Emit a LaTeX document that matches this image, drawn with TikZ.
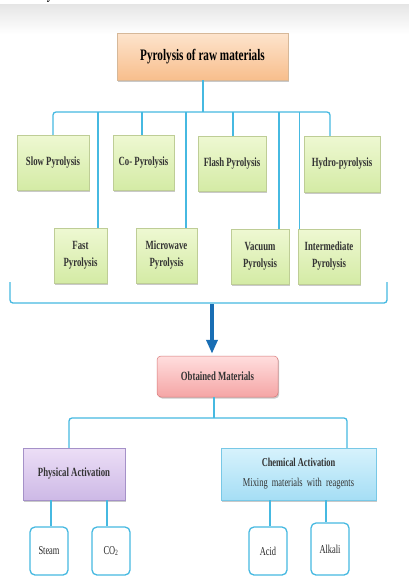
\documentclass[tikz,border=0pt]{standalone}
\usepackage{fontspec}
\setmainfont{Liberation Serif}[FakeStretch=0.7]
\usetikzlibrary{shadows,arrows.meta,calc}
\definecolor{conn}{RGB}{70,185,225}
\definecolor{arr}{RGB}{25,110,180}
\tikzset{
  conn/.style={draw=conn,line width=1.3pt},
  bus/.style={conn,rounded corners=3pt},
  box/.style={rectangle,align=center,inner sep=1pt,font=\bfseries,text=black!80,
    drop shadow={shadow xshift=1.2pt,shadow yshift=-1.5pt,opacity=0.35,fill=black!60}},
  titlebox/.style={box,draw=orange!60!black!40,line width=0.5pt,top color={rgb,255:red,253;green,228;blue,205},bottom color={rgb,255:red,248;green,190;blue,140},font=\bfseries\fontsize{16}{18}\selectfont,text=black},
  greenbox/.style={box,draw={rgb,255:red,190;green,205;blue,150},line width=0.5pt,top color={rgb,255:red,238;green,248;blue,210},bottom color={rgb,255:red,212;green,235;blue,165},font=\bfseries\fontsize{12.5}{17}\selectfont},
  redbox/.style={box,rounded corners=4pt,draw={rgb,255:red,215;green,120;blue,120},line width=0.5pt,top color={rgb,255:red,255;green,222;blue,222},bottom color={rgb,255:red,245;green,165;blue,165},font=\bfseries\fontsize{12.5}{15}\selectfont},
  purplebox/.style={box,draw={rgb,255:red,165;green,145;blue,200},line width=0.5pt,top color={rgb,255:red,236;green,222;blue,246},bottom color={rgb,255:red,205;green,185;blue,230},font=\bfseries\fontsize{12.5}{15}\selectfont},
  cyanbox/.style={box,draw={rgb,255:red,120;green,200;blue,230},line width=0.5pt,top color={rgb,255:red,215;green,242;blue,252},bottom color={rgb,255:red,165;green,222;blue,245},font=\fontsize{12}{20}\selectfont},
  smallbox/.style={rectangle,rounded corners=5pt,draw=conn,line width=1.3pt,fill=white,minimum width=38pt,minimum height=48pt,font=\fontsize{12}{14}\selectfont,text=black!85},
}
\begin{document}
\begin{tikzpicture}[x=1pt,y=-1pt]
\useasboundingbox (0,0) rectangle (409,576);
\fill[white] (0,0) rectangle (409,576);
\shade[top color=black!10,bottom color=white] (0,4) rectangle (409,34);
\begin{scope}
\clip (0,0) rectangle (409,4);
\node[font=\fontsize{18}{20}\selectfont,inner sep=0pt,anchor=base] (ytail) at (50,-1.5) {y};
\end{scope}

% title
\node[titlebox,minimum width=171pt,minimum height=47pt] (title) at (202.5,56.5) {Pyrolysis of raw materials};

% pyrolysis types
\node[greenbox,minimum width=72pt,minimum height=55pt] (slow) at (53,162.5) {Slow Pyrolysis};
\node[greenbox,minimum width=61pt,minimum height=55pt] (co) at (143.5,162.5) {Co- Pyrolysis};
\node[greenbox,minimum width=68pt,minimum height=55pt] (flash) at (232,163.5) {Flash Pyrolysis};
\node[greenbox,minimum width=76pt,minimum height=56pt] (hydro) at (342,164) {Hydro-pyrolysis};
\node[greenbox,minimum width=53pt,minimum height=55pt] (fast) at (80.5,255.5) {Fast\\Pyrolysis};
\node[greenbox,minimum width=61pt,minimum height=55pt] (micro) at (166.5,255.5) {Microwave\\Pyrolysis};
\node[greenbox,minimum width=58pt,minimum height=55pt] (vac) at (260,256.5) {Vacuum\\Pyrolysis};
\node[greenbox,minimum width=62pt,minimum height=55pt] (inter) at (329,256.5) {Intermediate\\Pyrolysis};

% bus
\coordinate (bus) at (203,112);
\coordinate (bL) at (53,112);
\coordinate (bR) at (330,112);
\coordinate (bFast) at (98,112);
\coordinate (bMicro) at (186,112);
\coordinate (bVac) at (279,112);
\coordinate (bInter) at (299.5,112);
\coordinate (bCo) at (142,112);
\coordinate (bFlash) at (233,112);
\draw[conn] (title.south -| bus) -- (bus);
\draw[bus] (slow.north) -- (bL) -- (bR) -- (bR |- hydro.north);
\draw[conn] (bFast) -- (bFast |- fast.north);
\draw[conn] (bCo) -- (bCo |- co.north);
\draw[conn] (bMicro) -- (bMicro |- micro.north);
\draw[conn] (bFlash) -- (bFlash |- flash.north);
\draw[conn] (bVac) -- (bVac |- vac.north);
\draw[conn] (bInter) -- (bInter |- inter.north);

% bracket
\coordinate (brL) at (10,282);
\coordinate (brR) at (387,282);
\coordinate (brM) at (212,303);
\draw[bus] (brL) -- (brL |- brM) -- (brR |- brM) -- (brR);

% obtained
\node[redbox,minimum width=121pt,minimum height=41pt] (obt) at (217.5,376.5) {Obtained Materials};
\draw[arr,line width=4.5pt,-{Triangle[width=11pt,length=14pt]}] ($(brM)+(0,1)$) -- ($(obt.north -| brM)+(0,-2)$);

% activation
\node[purplebox,minimum width=102pt,minimum height=52pt] (phys) at (74,474) {Physical Activation};
\node[cyanbox,minimum width=155pt,minimum height=52pt] (chem) at (298.5,474) {\textbf{Chemical Activation}\\Mixing\ \ materials\ \ with\ \ reagents};
\coordinate (oB) at (214,418);
\coordinate (oL) at (69,418);
\coordinate (oR) at (347,418);
\draw[conn] (obt.south -| oB) -- (oB);
\draw[bus] (oL |- phys.north) -- (oL) -- (oR) -- (oR |- chem.north);

% small boxes
\node[smallbox] (steam) at (49,551) {Steam};
\node[smallbox] (co2) at (111,551) {CO\textsubscript{2}};
\node[smallbox] (acid) at (268,551) {Acid};
\node[smallbox,minimum height=52pt] (alkali) at (330,549) {Alkali};
\coordinate (pS) at (51,0);
\coordinate (pC) at (107,0);
\coordinate (cA) at (270,0);
\coordinate (cK) at (326,0);
\draw[conn] (phys.south -| pS) -- (steam.north -| pS);
\draw[conn] (phys.south -| pC) -- (co2.north -| pC);
\draw[conn] (chem.south -| cA) -- (acid.north -| cA);
\draw[conn] (chem.south -| cK) -- (alkali.north -| cK);
\end{tikzpicture}
\end{document}
